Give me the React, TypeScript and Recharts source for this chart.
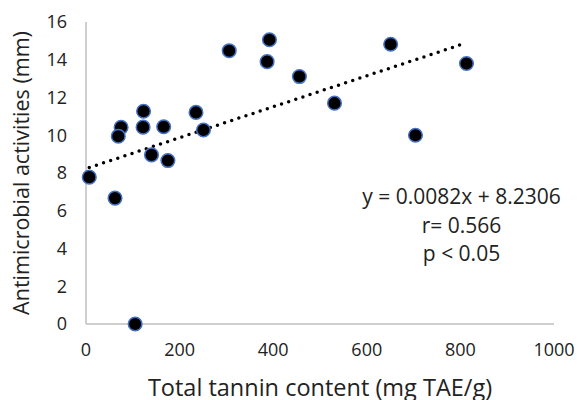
import React from 'react';
import { ScatterChart, Scatter, XAxis, YAxis, Label } from 'recharts';

// tannin content (mg TAE/g) vs inhibition zone (mm)
const tannin = [7, 62, 105, 75, 69, 123, 122, 166, 140, 175, 235, 251, 306, 387, 392, 456, 531, 651, 704, 813];
const activity = [7.78, 6.67, 0, 10.42, 9.95, 11.27, 10.43, 10.45, 8.96, 8.66, 11.21, 10.28, 14.48, 13.9, 15.06, 13.11, 11.7, 14.82, 10.0, 13.8];

const xTicks = [0, 200, 400, 600, 800, 1000];
const yTicks = [0, 2, 4, 6, 8, 10, 12, 14, 16];

const slope = 0.0082;
const intercept = 8.2306;
const statLines = ['y = 0.0082x + 8.2306', 'r= 0.566', 'p < 0.05'];

const points = tannin.map((x, i) => ({ x, y: activity[i] }));
const xMin = Math.min(...tannin);
const xMax = Math.max(...tannin);
const trend = [xMin, xMax].map((x) => ({ x, y: slope * x + intercept }));

const font = '"Open Sans", sans-serif';
const axisColor = '#bfbfbf';
const textColor = '#222';

const App: React.FC = () => {
  return (
    <div style={{ position: 'absolute', left: 0, top: 0, width: 579, height: 400, background: '#fff', fontFamily: font }}>
      <ScatterChart width={579} height={400} margin={{ top: 22, right: 25, bottom: 0, left: 0 }}>
        <XAxis
          type="number"
          dataKey="x"
          domain={[0, 1000]}
          ticks={xTicks}
          tickLine={false}
          tickSize={0}
          tickMargin={19}
          height={76}
          stroke={axisColor}
          strokeWidth={1.5}
          tick={{ fill: textColor, fontSize: 18, fontFamily: font }}
        >
          <Label
            value="Total tannin content (mg TAE/g)"
            position="insideBottom"
            offset={4}
            style={{ fill: textColor, fontSize: 23.5, fontFamily: font }}
          />
        </XAxis>
        <YAxis
          type="number"
          dataKey="y"
          domain={[0, 16]}
          ticks={yTicks}
          tickLine={false}
          tickSize={0}
          tickMargin={19}
          width={86}
          stroke={axisColor}
          strokeWidth={1.5}
          tick={{ fill: textColor, fontSize: 18, fontFamily: font }}
        >
          <Label
            value="Antimicrobial activities (mm)"
            angle={-90}
            position="insideLeft"
            offset={21}
            style={{ fill: textColor, fontSize: 21.5, fontFamily: font, textAnchor: 'middle' }}
          />
        </YAxis>
        <Scatter
          data={trend}
          line={{ stroke: '#000', strokeWidth: 3.5, strokeDasharray: '0 7.5', strokeLinecap: 'round' }}
          shape={() => <g />}
          isAnimationActive={false}
        />
        <Scatter
          data={points}
          fill="#000"
          stroke="#4472c4"
          strokeWidth={1.5}
          shape={(p: any) => <circle cx={p.cx} cy={p.cy} r={6.8} fill="#000" stroke="#4472c4" strokeWidth={1.5} />}
          isAnimationActive={false}
        />
      </ScatterChart>
      <div
        style={{
          position: 'absolute',
          left: 355,
          top: 182,
          width: 213,
          textAlign: 'center',
          fontSize: 21,
          lineHeight: '28.5px',
          color: textColor,
        }}
      >
        {statLines.map((s) => (
          <div key={s}>{s}</div>
        ))}
      </div>
    </div>
  );
};

export default App;
